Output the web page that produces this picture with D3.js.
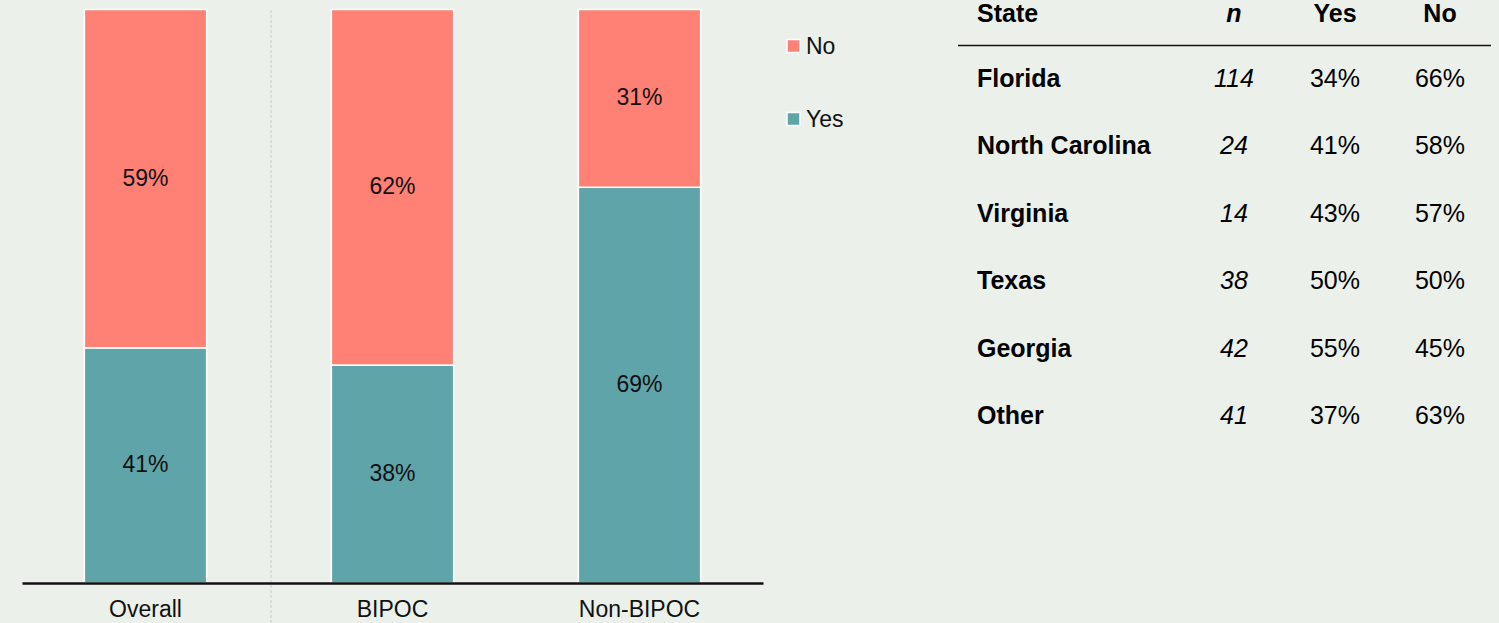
<!DOCTYPE html>
<html><head><meta charset="utf-8">
<script src="https://cdn.jsdelivr.net/npm/d3@7"></script>
<style>
html,body{margin:0;padding:0;background:#ECF0EA;}
svg{display:block;font-family:"Liberation Sans",Arial,sans-serif;}
</style></head>
<body>
<svg id="chart" width="1499" height="623"></svg>
<script>
const categories = ["Overall", "BIPOC", "Non-BIPOC"];
const yesValues = [41, 38, 69];
const noValues = [59, 62, 31];
const seriesNames = ["No", "Yes"];
const seriesColors = ["#FF8075", "#5FA4A9"];

const tableHeaders = ["State", "n", "Yes", "No"];
const states = ["Florida", "North Carolina", "Virginia", "Texas", "Georgia", "Other"];
const stateN = [114, 24, 14, 38, 42, 41];
const stateYes = [34, 41, 43, 50, 55, 37];
const stateNo = [66, 58, 57, 50, 45, 63];

const svg = d3.select("#chart");
const x = d3.scaleBand().domain(categories).range([22, 763]).paddingInner(0.505).paddingOuter(0.2525);
const y = d3.scaleLinear().domain([0, 100]).range([583, 9.5]);

const rows = categories.map((c, i) => ({cat: c, Yes: yesValues[i], No: noValues[i]}));
const stack = d3.stack().keys(["Yes", "No"])(rows);
const color = d3.scaleOrdinal().domain(seriesNames).range(seriesColors);

// separator
svg.append("line").attr("x1", 271).attr("x2", 271).attr("y1", 10).attr("y2", 623)
  .attr("stroke", "#C8CCC8").attr("stroke-width", 1).attr("stroke-dasharray", "3,2");

const g = svg.append("g");
stack.forEach(layer => {
  const key = layer.key;
  layer.forEach(d => {
    const x0 = x(d.data.cat), w = x.bandwidth();
    g.append("rect").attr("x", x0).attr("width", w)
      .attr("y", y(d[1])).attr("height", y(d[0]) - y(d[1]))
      .attr("fill", color(key)).attr("stroke", "#fff").attr("stroke-width", 1.5);
    g.append("text").attr("x", x0 + w / 2).attr("y", (y(d[0]) + y(d[1])) / 2 - 1)
      .attr("text-anchor", "middle").attr("dominant-baseline", "central")
      .attr("font-size", 23).attr("fill", "#111").text(d.data[key] + "%");
  });
});

// x axis
const xAxis = d3.axisBottom(x).tickSize(0).tickPadding(18);
const ax = svg.append("g").attr("transform", "translate(0,583)").call(xAxis);
ax.select(".domain").attr("stroke", "#111").attr("stroke-width", 2.5);
ax.selectAll("text").attr("font-size", 23).attr("fill", "#111").attr("font-family", "Liberation Sans, Arial, sans-serif");

// legend
const leg = svg.append("g");
const legY = [46, 119];
seriesNames.forEach((s, i) => {
  leg.append("rect").attr("x", 787).attr("y", legY[i] - 6.5).attr("width", 13).attr("height", 13)
    .attr("fill", color(s)).attr("stroke", "#fff").attr("stroke-width", 1.5);
  leg.append("text").attr("x", 806).attr("y", legY[i]).attr("dominant-baseline", "central")
    .attr("font-size", 23).attr("fill", "#111").text(s);
});

// table
const colX = [977, 1234, 1335, 1440];
const tbl = svg.append("g").attr("font-size", 25).attr("fill", "#000");
const headY = 13;
tableHeaders.forEach((h, i) => {
  tbl.append("text").attr("x", colX[i]).attr("y", headY).attr("dominant-baseline", "central")
    .attr("text-anchor", i === 0 ? "start" : "middle")
    .attr("font-weight", "bold").attr("font-style", i === 1 ? "italic" : "normal").text(h);
});
tbl.append("line").attr("x1", 958).attr("x2", 1491).attr("y1", 45.5).attr("y2", 45.5)
  .attr("stroke", "#111").attr("stroke-width", 1.5);
const rowY = d3.scalePoint().domain(states).range([78, 415]);
states.forEach((s, i) => {
  const yy = rowY(s);
  tbl.append("text").attr("x", colX[0]).attr("y", yy).attr("dominant-baseline", "central").attr("font-weight", "bold").text(s);
  tbl.append("text").attr("x", colX[1]).attr("y", yy).attr("dominant-baseline", "central").attr("text-anchor", "middle").attr("font-style", "italic").text(stateN[i]);
  tbl.append("text").attr("x", colX[2]).attr("y", yy).attr("dominant-baseline", "central").attr("text-anchor", "middle").text(stateYes[i] + "%");
  tbl.append("text").attr("x", colX[3]).attr("y", yy).attr("dominant-baseline", "central").attr("text-anchor", "middle").text(stateNo[i] + "%");
});
</script>
</body></html>
